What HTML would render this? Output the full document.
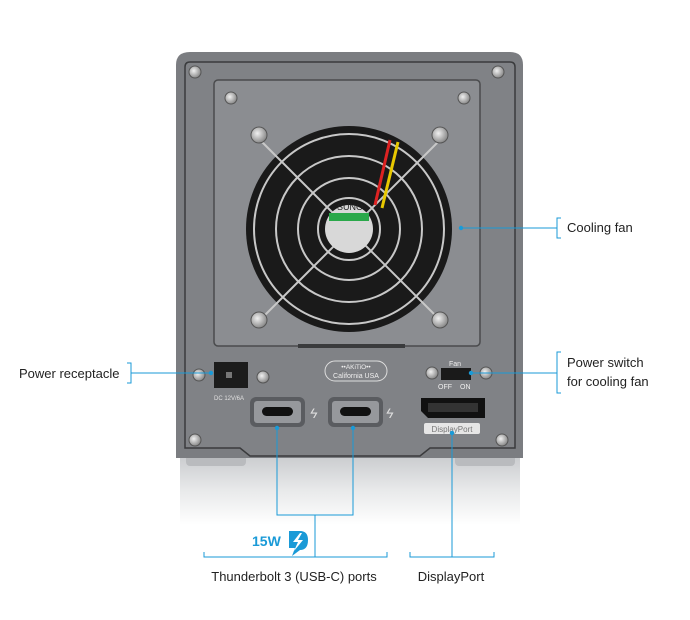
<!DOCTYPE html>
<html><head><meta charset="utf-8"><style>
html,body{margin:0;padding:0;background:#fff;}
svg{display:block;}
text{font-family:"Liberation Sans",sans-serif;}
</style></head><body>
<svg width="690" height="620" viewBox="0 0 690 620" xmlns="http://www.w3.org/2000/svg">
<defs>
<linearGradient id="refl" x1="0" y1="0" x2="0" y2="1">
<stop offset="0" stop-color="#c9cbce"/><stop offset="0.5" stop-color="#e8e9ea"/><stop offset="1" stop-color="#ffffff"/>
</linearGradient>
<radialGradient id="scr" cx="0.4" cy="0.4" r="0.6">
<stop offset="0" stop-color="#f0f0f0"/><stop offset="1" stop-color="#8a8a8a"/>
</radialGradient>
</defs>
<rect x="180" y="455" width="340" height="70" fill="url(#refl)"/>
<rect x="186" y="452" width="60" height="14" rx="4" fill="#b9bbbe"/>
<rect x="455" y="452" width="60" height="14" rx="4" fill="#b9bbbe"/>
<path d="M190 52 H510 Q523 52 523 65 V458 H176 V65 Q176 52 190 52Z" fill="#7b7d81"/>
<path d="M190 62 H510 Q515 62 515 67 V448 H430 L420 456 H250 L240 448 H185 V67 Q185 62 190 62Z" fill="#808286" stroke="#3a3b3d" stroke-width="1.5"/>
<rect x="214" y="80" width="266" height="266" rx="4" fill="#8b8d91" stroke="#4a4b4d" stroke-width="1.5"/>
<rect x="298" y="344" width="107" height="4" fill="#3a3b3d"/>
<circle cx="349" cy="229" r="103" fill="#1a1a1a"/>
<g fill="none" stroke="#c8c8c8" stroke-width="2">
<circle cx="349" cy="229" r="95"/><circle cx="349" cy="229" r="73"/><circle cx="349" cy="229" r="51"/><circle cx="349" cy="229" r="31"/>
<line x1="260" y1="140" x2="440" y2="320"/><line x1="440" y1="140" x2="260" y2="320"/>
</g>
<circle cx="349" cy="229" r="24" fill="#d8d8d8"/>
<rect x="329" y="213" width="40" height="8" fill="#2aa84a"/>
<text x="337" y="210" font-size="9" fill="#222">SUNO</text>
<path d="M390 140 L375 205" stroke="#d22" stroke-width="3"/><path d="M398 142 L382 208" stroke="#e8c800" stroke-width="3"/>
<g fill="url(#scr)" stroke="#555" stroke-width="1">
<circle cx="195" cy="72" r="6"/><circle cx="498" cy="72" r="6"/><circle cx="231" cy="98" r="6"/><circle cx="464" cy="98" r="6"/>
<circle cx="259" cy="135" r="8"/><circle cx="440" cy="135" r="8"/><circle cx="259" cy="320" r="8"/><circle cx="440" cy="320" r="8"/>
<circle cx="199" cy="375" r="6"/><circle cx="263" cy="377" r="6"/><circle cx="432" cy="373" r="6"/><circle cx="486" cy="373" r="6"/>
<circle cx="195" cy="440" r="6"/><circle cx="502" cy="440" r="6"/>
</g>
<rect x="214" y="362" width="34" height="26" fill="#1c1c1c"/>
<rect x="226" y="372" width="6" height="6" fill="#777"/>
<text x="214" y="400" font-size="6" fill="#e0e0e0">DC 12V/6A</text>
<rect x="325" y="361" width="62" height="20" rx="10" fill="none" stroke="#ddd" stroke-width="1"/>
<text x="356" y="369" font-size="6.5" fill="#eee" text-anchor="middle">••AKiTiO••</text>
<text x="356" y="378" font-size="7" fill="#eee" text-anchor="middle">California USA</text>
<rect x="250" y="397" width="55" height="30" rx="6" fill="#5a5c60"/>
<rect x="254" y="401" width="47" height="22" rx="3" fill="#96989c"/>
<rect x="262" y="407" width="31" height="9" rx="4.5" fill="#111"/>
<rect x="328" y="397" width="55" height="30" rx="6" fill="#5a5c60"/>
<rect x="332" y="401" width="47" height="22" rx="3" fill="#96989c"/>
<rect x="340" y="407" width="31" height="9" rx="4.5" fill="#111"/>
<text x="310" y="418" font-size="14" fill="#ddd" font-style="italic">ϟ</text>
<text x="386" y="418" font-size="14" fill="#ddd" font-style="italic">ϟ</text>
<text x="449" y="366" font-size="7" fill="#eee">Fan</text>
<rect x="441" y="368" width="30" height="12" fill="#1a1a1a"/>
<text x="438" y="389" font-size="7" fill="#eee">OFF</text><text x="460" y="389" font-size="7" fill="#eee">ON</text>
<path d="M421 398 H485 V418 H428 L421 411Z" fill="#111"/>
<rect x="428" y="403" width="50" height="9" fill="#333"/>
<rect x="424" y="423" width="56" height="11" rx="2" fill="#e6e6e6"/>
<text x="452" y="432" font-size="8" fill="#777" text-anchor="middle">DisplayPort</text>
<g stroke="#1a9ad7" stroke-width="1" fill="none">
<path d="M461 228 H557"/><path d="M561 218 H557 V238 H561"/>
<path d="M127 363 H131 V383 H127"/><path d="M131 373 H210"/>
<path d="M471 373 H557"/><path d="M561 352 H557 V393 H561"/>
<path d="M277 428 V515 H353 V428"/><path d="M315 515 V557"/>
<path d="M204 552 V557 H387 V552"/>
<path d="M452 433 V557"/><path d="M410 552 V557 H494 V552"/>
</g>
<g fill="#1a9ad7"><circle cx="461" cy="228" r="2.2"/><circle cx="211" cy="373" r="2.2"/><circle cx="471" cy="373" r="2.2"/>
<circle cx="277" cy="428" r="2.2"/><circle cx="353" cy="428" r="2.2"/><circle cx="452" cy="433" r="2.2"/></g>
<g font-size="13" fill="#222">
<text x="567" y="232">Cooling fan</text>
<text x="19" y="378">Power receptacle</text>
<text x="567" y="367">Power switch</text>
<text x="567" y="386">for cooling fan</text>
<text x="294" y="581" text-anchor="middle">Thunderbolt 3 (USB-C) ports</text>
<text x="451" y="581" text-anchor="middle">DisplayPort</text>
</g>
<text x="252" y="546" font-size="14" font-weight="bold" fill="#1a9ad7">15W</text>
<path d="M289 531 H300 Q308 531 308 540 Q308 550 300 550 L292 556 L295 548 H289Z" fill="#1a9ad7"/>
<path d="M300 533 L293 542 H298 L294 551 L303 540 H298 L302 533Z" fill="#fff"/>
</svg>
</body></html>
